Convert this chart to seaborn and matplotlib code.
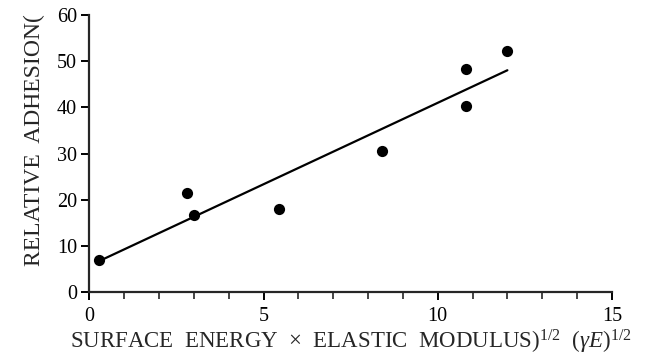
import matplotlib
matplotlib.use("Agg")
import matplotlib.pyplot as plt
import seaborn as sns
from matplotlib.ticker import MultipleLocator

# data
surface_x = [0.26, 2.79, 3.0, 5.45, 8.4, 10.8, 10.8, 12.0]
adhesion_y = [6.9, 21.5, 16.7, 18.0, 30.6, 48.2, 40.3, 52.2]
x_ticks = [0, 5, 10, 15]
y_ticks = [0, 10, 20, 30, 40, 50, 60]

sns.set_style("ticks")
plt.rcParams['font.family'] = ['Liberation Serif', 'DejaVu Serif']
plt.rcParams['mathtext.fontset'] = 'custom'
plt.rcParams['mathtext.rm'] = 'Liberation Serif'
plt.rcParams['mathtext.it'] = 'Liberation Serif:italic'

fig = plt.figure(figsize=(6.53, 3.57), dpi=100)
ax = fig.add_axes([0.137, 0.182, 0.800, 0.776])

# scatter + least squares line
sns.regplot(x=surface_x, y=adhesion_y, ax=ax, ci=None, truncate=True,
            scatter_kws=dict(s=65, color="black", alpha=1, linewidths=0),
            line_kws=dict(color="black", lw=1.6))

ax.set_xlim(0, 15)
ax.set_ylim(0, 60)
ax.set_xticks(x_ticks)
ax.set_yticks(y_ticks)
ax.xaxis.set_minor_locator(MultipleLocator(1))
sns.despine(ax=ax)
for s in ["left", "bottom"]:
    ax.spines[s].set_linewidth(1.6)
ax.tick_params(axis="both", which="major", length=6, width=1.4, labelsize=14.5, colors="black")
ax.tick_params(axis="x", which="minor", length=5, width=1.2)
ax.tick_params(axis="x", pad=5)
ax.tick_params(axis="y", pad=3)

ax.set_xlabel(r"SURFACE  ENERGY  ×  ELASTIC  MODULUS)$^{1/2}$  ($\gamma E$)$^{1/2}$",
              fontsize=16.5, labelpad=1)
ax.set_ylabel("RELATIVE  ADHESION(", fontsize=17)
ax.yaxis.set_label_coords(-0.085, 0.55)

fig.savefig("out.png", dpi=100)
